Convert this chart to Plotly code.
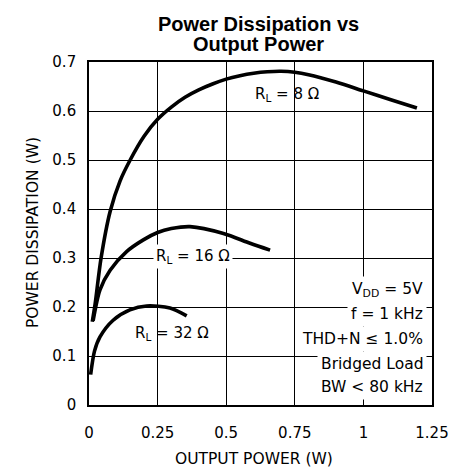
import plotly.graph_objects as go

# ---- data ----
r8_x = [0.012, 0.022, 0.044, 0.077, 0.113, 0.15, 0.2, 0.25, 0.3, 0.35, 0.4, 0.45, 0.5, 0.55, 0.6, 0.65, 0.7, 0.75, 0.8, 0.9, 1.0, 1.1, 1.195]
r8_y = [0.17, 0.205, 0.3, 0.395, 0.457, 0.5, 0.548, 0.583, 0.608, 0.628, 0.643, 0.655, 0.665, 0.672, 0.677, 0.680, 0.681, 0.679, 0.674, 0.659, 0.641, 0.623, 0.606]

r16_x = [0.015, 0.04, 0.077, 0.137, 0.198, 0.25, 0.3, 0.368, 0.49, 0.587, 0.66]
r16_y = [0.172, 0.235, 0.275, 0.313, 0.337, 0.352, 0.36, 0.364, 0.35, 0.33, 0.316]

r32_x = [0.006, 0.02, 0.04, 0.088, 0.149, 0.21, 0.295, 0.356]
r32_y = [0.062, 0.11, 0.139, 0.173, 0.194, 0.202, 0.198, 0.182]

x_ticks = [0, 0.25, 0.5, 0.75, 1, 1.25]
x_tick_labels = ["0", "0.25", "0.5", "0.75", "1", "1.25"]
y_ticks = [0, 0.1, 0.2, 0.3, 0.4, 0.5, 0.6, 0.7]
y_tick_labels = ["0", "0.1", "0.2", "0.3", "0.4", "0.5", "0.6", "0.7"]

curve_labels = ["R<sub>L</sub> = 8 Ω", "R<sub>L</sub> = 16 Ω", "R<sub>L</sub> = 32 Ω"]
cond_lines = ["V<sub>DD</sub> = 5V", "f = 1 kHz", "THD+N ≤ 1.0%", "Bridged Load", "BW < 80 kHz"]

FONT = "DejaVu Sans"

fig = go.Figure()
for xs, ys in [(r8_x, r8_y), (r16_x, r16_y), (r32_x, r32_y)]:
    fig.add_trace(go.Scatter(x=xs, y=ys, mode="lines",
                             line=dict(color="black", width=3.6, shape="spline", smoothing=0.8),
                             showlegend=False, hoverinfo="skip"))

W, H = 449, 475
# plot area in page pixels: x 89..432, y 62..405
PL, PR, PT, PB = 89, 432, 62, 405
L, R, T, B = PL, W - PR, PT, H - PB
pw, ph = PR - PL, PB - PT
X0, X1 = 0, 1.25
Y0, Y1 = 0, 0.7

def dx(px):
    return X0 + (px - PL) / pw * (X1 - X0)

def dy(py):
    return Y0 + (PB - py) / ph * (Y1 - Y0)

def px_paper_x(px):
    return (px - PL) / pw

def px_paper_y(py):
    return (PB - py) / ph

annotations = []
# curve labels
label_pos = [(287, 94, False), (193, 256, True), (172, 333, False)]
for text, (px, py, bg) in zip(curve_labels, label_pos):
    annotations.append(dict(x=dx(px), y=dy(py), xref="x", yref="y", text=text,
                            showarrow=False, xanchor="center", yanchor="middle",
                            font=dict(family=FONT, size=15, color="black"),
                            bgcolor="white" if bg else None, borderpad=2))

# conditions block
cond_y = [290, 314, 338.5, 363.5, 386.5]
for text, py in zip(cond_lines, cond_y):
    annotations.append(dict(x=dx(427), y=dy(py), xref="x", yref="y", text=text,
                            showarrow=False, xanchor="right", yanchor="middle",
                            font=dict(family=FONT, size=15.5, color="black"),
                            bgcolor="white", borderpad=3))

# title (two tight lines)
annotations.append(dict(x=px_paper_x(258), y=px_paper_y(24), xref="paper", yref="paper",
                        text="<b>Power Dissipation vs</b>", showarrow=False,
                        xanchor="center", yanchor="middle",
                        font=dict(family="Liberation Sans", size=20, color="black")))
annotations.append(dict(x=px_paper_x(258), y=px_paper_y(44), xref="paper", yref="paper",
                        text="<b>Output Power</b>", showarrow=False,
                        xanchor="center", yanchor="middle",
                        font=dict(family="Liberation Sans", size=20, color="black")))

# axis titles
annotations.append(dict(x=px_paper_x(254), y=px_paper_y(459), xref="paper", yref="paper",
                        text="OUTPUT POWER (W)", showarrow=False,
                        xanchor="center", yanchor="middle",
                        font=dict(family=FONT, size=15.5, color="black")))
annotations.append(dict(x=px_paper_x(33), y=px_paper_y(233), xref="paper", yref="paper",
                        text="POWER DISSIPATION (W)", showarrow=False, textangle=-90,
                        xanchor="center", yanchor="middle",
                        font=dict(family=FONT, size=15.5, color="black")))

fig.update_layout(
    width=W, height=H,
    margin=dict(l=L, r=R, t=T, b=B, pad=0, autoexpand=False),
    paper_bgcolor="white", plot_bgcolor="white",
    annotations=annotations,
    font=dict(family=FONT, size=15, color="black"),
)
fig.update_xaxes(range=[X0, X1], tickvals=x_ticks, ticktext=x_tick_labels,
                 showgrid=True, gridcolor="black", gridwidth=1,
                 showline=True, linecolor="black", linewidth=1.6, mirror=True,
                 ticks="", ticklabelstandoff=13, zeroline=False, automargin=False,
                 ticklabeloverflow="allow",
                 tickfont=dict(family=FONT, size=15, color="black"))
fig.update_yaxes(range=[Y0, Y1], tickvals=y_ticks, ticktext=y_tick_labels,
                 showgrid=True, gridcolor="black", gridwidth=1,
                 showline=True, linecolor="black", linewidth=1.6, mirror=True,
                 ticks="", ticklabelstandoff=8, zeroline=False, automargin=False,
                 tickfont=dict(family=FONT, size=15, color="black"))

fig.write_html(
    "out.html",
    config={"displayModeBar": False},
    post_script="document.body.style.margin='0';document.body.style.overflow='hidden';",
)
